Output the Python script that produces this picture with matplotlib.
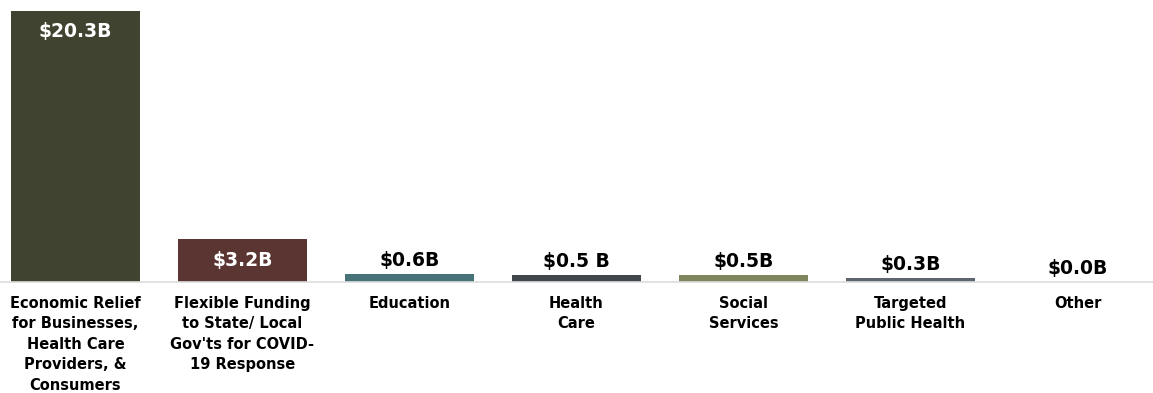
import matplotlib
matplotlib.use("Agg")
import matplotlib.pyplot as plt

# data
categories = [
    "Economic Relief\nfor Businesses,\nHealth Care\nProviders, &\nConsumers",
    "Flexible Funding\nto State/ Local\nGov'ts for COVID-\n19 Response",
    "Education",
    "Health\nCare",
    "Social\nServices",
    "Targeted\nPublic Health",
    "Other",
]
values = [20.3, 3.2, 0.6, 0.5, 0.5, 0.3, 0.0]
value_labels = ["$20.3B", "$3.2B", "$0.6B", "$0.5 B", "$0.5B", "$0.3B", "$0.0B"]
colors = ["#40432f", "#5a3532", "#477278", "#41474d", "#7f865c", "#5d666e", "#5d666e"]

plt.rcParams["font.family"] = ["DejaVu Sans"]

fig = plt.figure(figsize=(11.53, 3.93), dpi=100)
ax = fig.add_axes([0, 0.2824, 1, 0.7176])

x = range(len(values))
bars = ax.bar(x, values, width=0.77, color=colors)

# value labels: inside for the two big bars, above for the rest
for i, (b, lab) in enumerate(zip(bars, value_labels)):
    h = b.get_height()
    if h > 2:
        ax.annotate(lab, (b.get_x() + b.get_width() / 2, h), xytext=(0, -15),
                    textcoords="offset points", ha="center", va="center",
                    color="white", fontsize=13.5, fontweight="bold")
    else:
        ax.annotate(lab, (b.get_x() + b.get_width() / 2, h), xytext=(0, 3),
                    textcoords="offset points", ha="center", va="bottom",
                    color="black", fontsize=13.5, fontweight="bold")

ax.set_xlim(-0.452, 6.452)
ax.set_ylim(0, 21.12)
ax.set_xticks(list(x))
ax.set_xticklabels(categories, fontsize=10.5, fontweight="bold", linespacing=1.45)
ax.tick_params(axis="x", length=0, pad=10)
ax.set_yticks([])

for s in ["top", "left", "right"]:
    ax.spines[s].set_visible(False)
ax.spines["bottom"].set_color("#dddddd")
ax.spines["bottom"].set_linewidth(1.2)

fig.savefig("out.png", dpi=100)
